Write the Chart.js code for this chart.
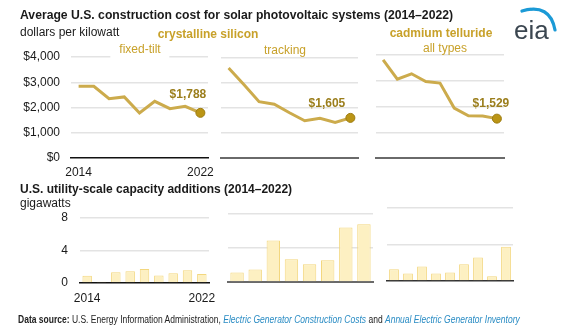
<!DOCTYPE html>
<html>
<head>
<meta charset="utf-8">
<script src="https://cdn.jsdelivr.net/npm/chart.js@4.4.1/dist/chart.umd.min.js"></script>
<style>
  body { margin: 0; background: #fff; width: 577px; height: 333px; position: relative; overflow: hidden;
         font-family: "Liberation Sans", Arial, sans-serif; }
  canvas { position: absolute; left: 0; top: 0; }
  .t { position: absolute; white-space: nowrap; line-height: 12px; font-size: 12px; color: #1a1a1a; }
  .b { font-weight: bold; }
  .gold { color: #c8a12a; }
  .c { transform: translateX(-50%); }
  .foot { position: absolute; left: 18px; top: 314px; white-space: nowrap; font-size: 10px; line-height: 12px;
          font-family: "Liberation Sans Narrow", "Liberation Sans", Arial, sans-serif; color: #222; transform-origin: 0 0; }
  .foot i { color: #2a8cc4; }
</style>
</head>
<body>
<canvas id="p1" width="577" height="333"></canvas>
<canvas id="p2" width="577" height="333"></canvas>
<canvas id="p3" width="577" height="333"></canvas>
<canvas id="b1" width="577" height="333"></canvas>
<canvas id="b2" width="577" height="333"></canvas>
<canvas id="b3" width="577" height="333"></canvas>

<div class="t b" style="left:20px;top:9px;font-size:12.2px">Average U.S. construction cost for solar photovoltaic systems (2014&ndash;2022)</div>
<div class="t" style="left:20px;top:26px">dollars per kilowatt</div>
<div class="t b gold c" style="left:208px;top:28px">crystalline silicon</div>
<div class="t b gold c" style="left:441px;top:27px">cadmium telluride</div>
<div class="t gold c" style="left:445px;top:42px">all types</div>
<div class="t gold c" style="left:140px;top:43px;background:#fff;padding:0 9px 4px 9px">fixed-tilt</div>
<div class="t gold c" style="left:285px;top:44px">tracking</div>
<div class="t b" style="left:20px;top:183px">U.S. utility-scale capacity additions (2014&ndash;2022)</div>
<div class="t" style="left:20px;top:197px">gigawatts</div>
<div class="foot" id="foot"><b>Data source:</b> U.S. Energy Information Administration, <i>Electric Generator Construction Costs</i> and <i>Annual Electric Generator Inventory</i></div>

<svg style="position:absolute;left:505px;top:2px" width="60" height="44" viewBox="505 2 60 44">
  <path d="M522 11 Q550 3 555 30" fill="none" stroke="#1b9ad6" stroke-width="3.2" stroke-linecap="round"/>
  <text x="514" y="39" font-family="Liberation Sans, Arial, sans-serif" font-size="26" fill="#3b4650">eia</text>
</svg>

<script>
// years on the x axis
const years = ['2014', '2015', '2016', '2017', '2018', '2019', '2020', '2021', '2022'];
const trackingYears = ['2015', '2016', '2017', '2018', '2019', '2020', '2021', '2022'];

// construction cost, dollars per kilowatt
const fixedTiltCost = [2840, 2840, 2350, 2420, 1785, 2245, 1955, 2045, 1788];
const trackingCost = [3600, 2940, 2255, 2150, 1810, 1490, 1585, 1425, 1605];
const cdteCost = [3810, 3060, 3270, 2970, 2910, 1940, 1640, 1630, 1529];

// capacity additions, gigawatts
const fixedTiltGW = [0.88, 0.16, 1.32, 1.44, 1.72, 0.92, 1.2, 1.56, 1.12];
const trackingGW = [1.12, 1.48, 4.88, 2.68, 2.08, 2.56, 6.4, 6.8];
const cdteGW = [1.28, 0.81, 1.58, 0.81, 0.92, 1.83, 2.57, 0.51, 3.74];

const W = 577, H = 333;
const FONT = '"Liberation Sans", Arial, sans-serif';
Chart.defaults.font.family = FONT;

// value label next to the last point of a line
const endLabel = {
    id: 'endLabel',
    afterDatasetsDraw(chart, args, opts) {
        const meta = chart.getDatasetMeta(0);
        const i = meta.data.length - 1;
        const pt = meta.data[i];
        const v = chart.data.datasets[0].data[i];
        const ctx = chart.ctx;
        ctx.save();
        ctx.font = 'bold 12px ' + FONT;
        ctx.fillStyle = '#9b7e1c';
        ctx.textAlign = 'center';
        ctx.textBaseline = 'middle';
        ctx.fillText('$' + v.toLocaleString('en-US'), pt.x + opts.dx, pt.y + opts.dy);
        ctx.restore();
    }
};

function panel(id, o) {
    const [L, T, R, B] = o.area;
    const xH = 22;
    const n = o.labels.length;
    let ds;
    if (o.type === 'line') {
        ds = {
            data: o.values,
            borderColor: '#ccab4c',
            borderWidth: 3,
            tension: 0,
            pointRadius: c => c.dataIndex === n - 1 ? 4.5 : 0,
            pointBackgroundColor: '#bb9515',
            pointBorderColor: '#9c7b0e',
            pointBorderWidth: 1
        };
    } else {
        ds = {
            data: o.values,
            backgroundColor: '#fdf0c2',
            borderColor: '#f3d77e',
            borderWidth: 1,
            barPercentage: o.barPct,
            categoryPercentage: 1
        };
    }
    new Chart(document.getElementById(id), {
        type: o.type,
        data: { labels: o.labels, datasets: [ds] },
        options: {
            responsive: false,
            animation: false,
            devicePixelRatio: 1,
            layout: { padding: { left: 0, top: T, right: W - R, bottom: H - B - xH } },
            plugins: {
                legend: { display: false },
                tooltip: { enabled: false },
                endLabel: o.endLabel || false
            },
            scales: {
                x: {
                    offset: true,
                    grid: { display: false, drawTicks: false },
                    border: { display: true, color: o.base, width: o.baseW },
                    ticks: {
                        display: !!o.xTicks, autoSkip: false, maxRotation: 0, padding: o.xPad || 7,
                        color: '#1a1a1a', font: { size: 12 },
                        callback: (v, i) => (i === 0 || i === n - 1) ? o.labels[i] : ''
                    },
                    afterFit: s => { s.height = xH; s.paddingLeft = 0; s.paddingRight = 0; }
                },
                y: {
                    min: 0, max: o.max,
                    grid: {
                        color: c => c.tick.value === 0 ? 'rgba(0,0,0,0)' : '#e3e3e3',
                        lineWidth: 1.5, drawTicks: false
                    },
                    border: { display: false },
                    ticks: {
                        display: !!o.yTicks, stepSize: o.step, padding: o.yPad || 11,
                        color: '#1a1a1a', font: { size: 12 },
                        callback: o.fmt || (v => v)
                    },
                    afterFit: s => { s.width = L; s.paddingTop = 0; s.paddingBottom = 0; }
                }
            }
        },
        plugins: [endLabel]
    });
}

const dollars = v => '$' + v.toLocaleString('en-US');

panel('p1', { type: 'line', labels: years, values: fixedTiltCost, area: [71, 57, 208, 158], max: 4000, step: 1000,
    yTicks: true, xTicks: true, fmt: dollars, base: '#111', baseW: 1.5, endLabel: { dx: -12.5, dy: -18.5 } });
panel('p2', { type: 'line', labels: years, values: trackingCost, area: [221, 58, 358, 158], max: 4000, step: 1000,
    base: '#6a6a6a', baseW: 2, endLabel: { dx: -23.5, dy: -14.5 } });
panel('p3', { type: 'line', labels: years, values: cdteCost, area: [376, 55, 504, 158], max: 4000, step: 1000,
    base: '#6a6a6a', baseW: 2, endLabel: { dx: -6, dy: -14.5 } });

panel('b1', { type: 'bar', labels: years, values: fixedTiltGW, area: [80, 218, 209, 283], max: 8, step: 4,
    yTicks: true, xTicks: true, yPad: 12, xPad: 8, base: '#111', baseW: 1.5, barPct: 0.66 });
panel('b2', { type: 'bar', labels: trackingYears, values: trackingGW, area: [228, 214, 373, 282], max: 8, step: 4,
    base: '#6a6a6a', baseW: 2, barPct: 0.74 });
panel('b3', { type: 'bar', labels: years, values: cdteGW, area: [387, 208, 513, 281], max: 8, step: 4,
    base: '#333', baseW: 1.5, barPct: 0.7 });

// squeeze the source line to the reference width
const foot = document.getElementById('foot');
foot.style.transform = 'scaleX(' + (502 / foot.scrollWidth) + ')';
</script>
</body>
</html>
